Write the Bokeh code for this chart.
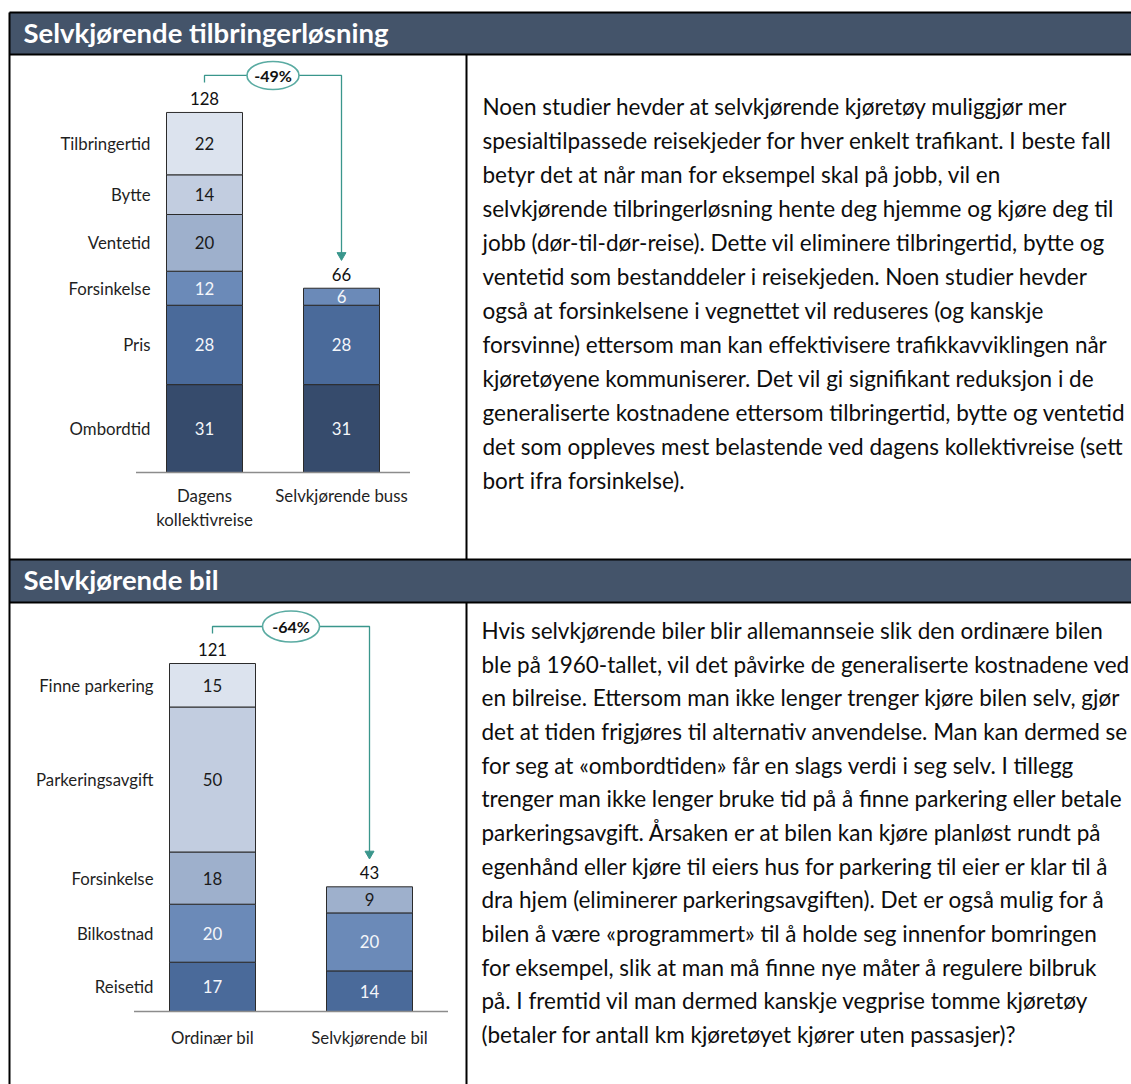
import numpy as np
from bokeh.plotting import figure
from bokeh.models import Range1d, ColumnDataSource
from bokeh.core.properties import value
from bokeh.embed import file_html
from bokeh.resources import INLINE

# ---------------- data ----------------
# Chart 1: Selvkjørende tilbringerløsning (components listed bottom -> top)
c1_title = "Selvkjørende tilbringerløsning"
c1_categories = ["Dagens\nkollektivreise", "Selvkjørende buss"]
c1_components = ["Ombordtid", "Pris", "Forsinkelse", "Ventetid", "Bytte", "Tilbringertid"]
c1_dagens = [31, 28, 12, 20, 14, 22]
c1_buss = [31, 28, 6, 0, 0, 0]
c1_totals = [128, 66]
c1_change = "-49%"

# Chart 2: Selvkjørende bil (components listed bottom -> top)
c2_title = "Selvkjørende bil"
c2_categories = ["Ordinær bil", "Selvkjørende bil"]
c2_components = ["Reisetid", "Bilkostnad", "Forsinkelse", "Parkeringsavgift", "Finne parkering"]
c2_ordinaer = [17, 20, 18, 50, 15]
c2_selvkj = [14, 20, 9, 0, 0]
c2_totals = [121, 43]
c2_change = "-64%"

para1 = [
    "Noen studier hevder at selvkjørende kjøretøy muliggjør mer",
    "spesialtilpassede reisekjeder for hver enkelt trafikant. I beste fall",
    "betyr det at når man for eksempel skal på jobb, vil en",
    "selvkjørende tilbringerløsning hente deg hjemme og kjøre deg til",
    "jobb (dør-til-dør-reise). Dette vil eliminere tilbringertid, bytte og",
    "ventetid som bestanddeler i reisekjeden. Noen studier hevder",
    "også at forsinkelsene i vegnettet vil reduseres (og kanskje",
    "forsvinne) ettersom man kan effektivisere trafikkavviklingen når",
    "kjøretøyene kommuniserer. Det vil gi signifikant reduksjon i de",
    "generaliserte kostnadene ettersom tilbringertid, bytte og ventetid",
    "det som oppleves mest belastende ved dagens kollektivreise (sett",
    "bort ifra forsinkelse).",
]
para2 = [
    "Hvis selvkjørende biler blir allemannseie slik den ordinære bilen",
    "ble på 1960-tallet, vil det påvirke de generaliserte kostnadene ved",
    "en bilreise. Ettersom man ikke lenger trenger kjøre bilen selv, gjør",
    "det at tiden frigjøres til alternativ anvendelse. Man kan dermed se",
    "for seg at «ombordtiden» får en slags verdi i seg selv. I tillegg",
    "trenger man ikke lenger bruke tid på å finne parkering eller betale",
    "parkeringsavgift. Årsaken er at bilen kan kjøre planløst rundt på",
    "egenhånd eller kjøre til eiers hus for parkering til eier er klar til å",
    "dra hjem (eliminerer parkeringsavgiften). Det er også mulig for å",
    "bilen å være «programmert» til å holde seg innenfor bomringen",
    "for eksempel, slik at man må finne nye måter å regulere bilbruk",
    "på. I fremtid vil man dermed kanskje vegprise tomme kjøretøy",
    "(betaler for antall km kjøretøyet kjører uten passasjer)?",
]

# ---------------- styling ----------------
FONT = "Lato"
HEADER = "#44546a"
TEAL = "#3a968c"
TEAL_E = "#5aaba2"
C_L1, C_L2, C_M1, C_M2, C_D1, C_D2 = "#dce3ee", "#c2cde0", "#9eb0cc", "#6b8ab8", "#4a6a9a", "#364b6c"
DARK_TXT, LIGHT_TXT = "#1a1a1a", "#f4f6fa"
LBL = "16.8px"

W, H = 1131, 1084
OX, OY = 0, 0  # page offset of the canvas

p = figure(width=W, height=H, x_range=Range1d(OX, OX + W), y_range=Range1d(OY + H, OY),
           output_backend="svg", toolbar_location=None, min_border=0,
           x_axis_type=None, y_axis_type=None)
p.grid.visible = False
p.outline_line_color = None
p.background_fill_color = "white"
p.border_fill_color = "white"

# ---------------- page frame ----------------
X_LEFT, X_DIV, X_RIGHT = 9, 466, OX + W + 5
Y_BOT = OY + H + 5
headers = [(12, 54, c1_title, 32), (559, 602, c2_title, 579)]
for (y0, y1, title, ymid) in headers:
    p.quad(left=X_LEFT, right=X_RIGHT, top=y0, bottom=y1, fill_color=HEADER, line_color=None)
    p.segment(x0=X_LEFT, x1=X_RIGHT, y0=y0, y1=y0, line_color="black", line_width=2)
    p.segment(x0=X_LEFT, x1=X_RIGHT, y0=y1, y1=y1, line_color="black", line_width=2)
    p.text(x=[23], y=[ymid], text=[title], text_font=value(FONT), text_font_style="bold",
           text_font_size="27.5px", text_color="white", text_baseline="middle")
p.segment(x0=X_LEFT, x1=X_LEFT, y0=12, y1=Y_BOT, line_color="black", line_width=2)
p.segment(x0=X_DIV, x1=X_DIV, y0=54, y1=559, line_color="black", line_width=2)
p.segment(x0=X_DIV, x1=X_DIV, y0=602, y1=Y_BOT, line_color="black", line_width=2)

# ---------------- paragraphs ----------------
def draw_para(lines, x, y_first, spacing):
    ys = [y_first + i * spacing for i in range(len(lines))]
    p.text(x=[x] * len(lines), y=ys, text=lines, text_font=value(FONT), text_font_size="22.5px",
           text_color="#0d0d0d", text_baseline="middle")

draw_para(para1, 482, 106, 34.0)
draw_para(para2, 481, 630, 33.67)

# ---------------- charts ----------------
def draw_chart(name, cats, comps, series, totals, change, colors, label_colors, g):
    base, k, c0, d = g["base"], g["k"], g["c0"], g["d"]
    xr = name + "x"
    yr = name + "y"
    p.extra_x_ranges[xr] = Range1d((OX - c0) / d, (OX + W - c0) / d)
    p.extra_y_ranges[yr] = Range1d((base - (OY + H)) / k, (base - OY) / k)
    kw = dict(x_range_name=xr, y_range_name=yr)

    rows = dict(x=[], bottom=[], top=[], mid=[], color=[], label=[], lcolor=[], comp=[])
    tops = []
    for i, vals in enumerate(series):
        vals = np.array(vals, dtype=float)
        cum = np.cumsum(vals)
        tops.append(cum[-1])
        for j, v in enumerate(vals):
            if v <= 0:
                continue
            rows["x"].append(i)
            rows["bottom"].append(cum[j] - v)
            rows["top"].append(cum[j])
            rows["mid"].append(cum[j] - v / 2)
            rows["color"].append(colors[j])
            rows["label"].append(str(int(v)))
            rows["lcolor"].append(label_colors[j])
            rows["comp"].append(comps[j] if i == 0 else "")
    src = ColumnDataSource(rows)
    p.vbar(x="x", width=g["bw"], bottom="bottom", top="top", fill_color="color",
           line_color="#2b2b2b", line_width=1, source=src, **kw)
    p.text(x="x", y="mid", text="label", text_color="lcolor", text_font=value(FONT),
           text_font_size=LBL, text_align="center", text_baseline="middle", source=src, **kw)

    # component labels to the left of the first bar
    first = ColumnDataSource(dict(x=[0] * len([c for c in rows["comp"] if c]),
                                  y=[m for m, c in zip(rows["mid"], rows["comp"]) if c],
                                  t=[c for c in rows["comp"] if c]))
    p.text(x="x", y="y", text="t", x_offset=g["lab_off"], text_font=value(FONT),
           text_font_size=LBL, text_color="#1f1f1f", text_align="right",
           text_baseline="middle", source=first, **kw)

    # axis baseline
    p.segment(x0=-0.5, x1=1.5, y0=0, y1=0, line_color="#8c8c8c", line_width=1.5, **kw)

    # category labels
    p.text(x=[0, 1], y=[-g["cat_gap"] / k] * 2, text=cats, text_font=value(FONT),
           text_font_size=LBL, text_color="#1f1f1f", text_align="center",
           text_baseline="top", text_line_height=1.15, **kw)

    # totals
    p.text(x=[0, 1], y=[t + 14 / k for t in tops], text=[str(t) for t in totals],
           text_font=value(FONT), text_font_size=LBL, text_color="#111111",
           text_align="center", text_baseline="middle", **kw)

    # change bracket with arrow
    y_br = tops[0] + 37 / k
    y_leg = tops[0] + 30 / k
    y_tip = tops[1] + 29 / k
    p.line(x=[0, 0, 1, 1], y=[y_leg, y_br, y_br, y_tip + 5 / k], line_color=TEAL, line_width=1.3, **kw)
    p.scatter(x=[1], y=[y_tip + 4 / k], marker="inverted_triangle", size=9,
              fill_color=TEAL, line_color=TEAL, **kw)
    p.ellipse(x=[0.5], y=[y_br], width=g["ew"], height=g["eh"], width_units="screen",
              height_units="screen", fill_color="white", line_color=TEAL_E, line_width=1.6, **kw)
    p.text(x=[0.5], y=[y_br], text=[change], text_font=value(FONT), text_font_style="bold",
           text_font_size="16px", text_color="#111111", text_align="center",
           text_baseline="middle", **kw)


draw_chart("c1", c1_categories, c1_components, [c1_dagens, c1_buss], c1_totals, c1_change,
           [C_D2, C_D1, C_M2, C_M1, C_L2, C_L1],
           [LIGHT_TXT, LIGHT_TXT, LIGHT_TXT, DARK_TXT, DARK_TXT, DARK_TXT],
           dict(base=472, k=2.835, c0=204, d=137, bw=76 / 137, lab_off=-54, cat_gap=12,
                ew=52, eh=28))

draw_chart("c2", c2_categories, c2_components, [c2_ordinaer, c2_selvkj], c2_totals, c2_change,
           [C_D1, C_M2, C_M1, C_L2, C_L1],
           [LIGHT_TXT, LIGHT_TXT, DARK_TXT, DARK_TXT, DARK_TXT],
           dict(base=1011, k=2.9, c0=212, d=157, bw=86 / 157, lab_off=-59, cat_gap=15,
                ew=57, eh=31))

open("out.html", "w").write(file_html(p, INLINE))
